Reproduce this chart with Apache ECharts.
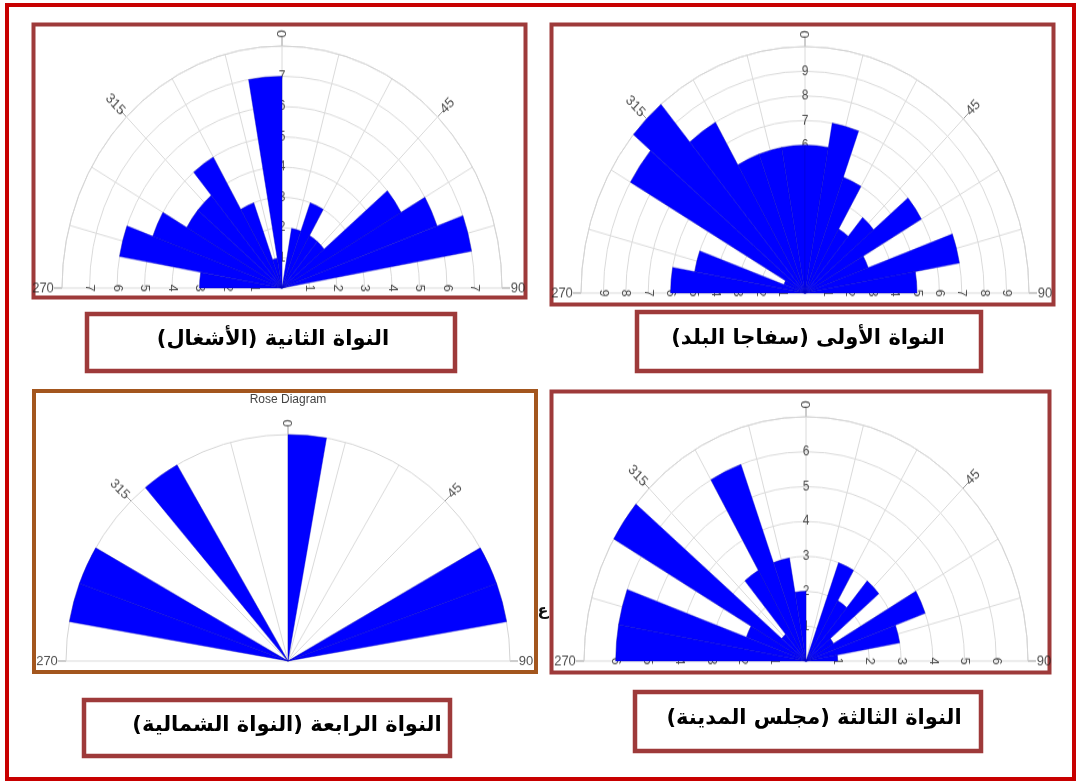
<!DOCTYPE html>
<html>
<head>
<meta charset="utf-8">
<script src="https://cdn.jsdelivr.net/npm/echarts@6/dist/echarts.min.js"></script>
<style>
  html, body { margin: 0; padding: 0; background: #fff; }
  .layer { position: absolute; left: 0; top: 0; width: 1078px; height: 783px; }
</style>
</head>
<body>
<div id="frame" class="layer"></div>
<div id="p0" class="layer"></div>
<div id="p1" class="layer"></div>
<div id="p2" class="layer"></div>
<div id="p3" class="layer"></div>
<script>
// 10-degree classes, 270 -> 0 -> 90 (clockwise over the top)
const bins = ['270', '280', '290', '300', '310', '320', '330', '340', '350',
              '0', '10', '20', '30', '40', '50', '60', '70', '80'];

// frequencies per class
const ashghal      = [3, 6, 5, 4, 4, 5, 3, 1, 7,   0, 2, 3, 2, 2, 5, 6, 7, 0];
const safagaBalad  = [6, 5, 1, 9, 10, 8, 6, 6, 6,  6, 7, 5, 3, 4, 6, 3, 7, 5];
const majlisMadina = [6, 6, 2, 7, 1, 3, 6, 3, 2,   0, 0, 3, 2, 3, 1, 4, 3, 1];
const shamalia     = [0, 1, 1, 0, 0, 1, 0, 0, 0,   1, 0, 0, 0, 0, 0, 1, 1, 0];

// tick labels
const angleTicks = [270, 315, 0, 45, 90];
const ringsAshghal = [1, 2, 3, 4, 5, 6, 7];
const ringsSafaga = [1, 2, 3, 4, 5, 6, 7, 8, 9];
const ringsMajlis = [1, 2, 3, 4, 5, 6];
const ringsShamalia = [];

const titles = [
  'النواة الثانية (الأشغال)',
  'النواة الأولى (سفاجا البلد)',
  'النواة الثالثة (مجلس المدينة)',
  'النواة الرابعة (النواة الشمالية)'
];

// layout of each panel (stretch = the source pictures are taller than wide)
const panels = [
  { data: ashghal, rings: ringsAshghal, max: 8, center: [282, 288], r: 220, stretch: 1.1 },
  { data: safagaBalad, rings: ringsSafaga, max: 10, center: [805, 293], r: 224, stretch: 1.1 },
  { data: majlisMadina, rings: ringsMajlis, max: 7, center: [806, 661], r: 222, stretch: 1.1 },
  { data: shamalia, rings: ringsShamalia, max: 1, center: [288, 661], r: 222, stretch: 1.02 }
];
// gap (px) beyond the outer ring and rotation for the compass labels
const angleGap = [19, 16, 11, 14, 16];
const angleRot = [0, -45, 90, 45, 0];

const FONT = 'Liberation Sans';
const toAxis = c => (c + 90) % 360;   // compass -> 0..180 along the half circle

function panelOption(p) {
  const polar = [0, 1, 2].map(() => ({ center: p.center, radius: p.r }));
  const angleAxis = [], radiusAxis = [];

  // grid: spokes every 15 deg, rings every unit
  angleAxis.push({
    polarIndex: 0, type: 'value', min: 0, max: 180, interval: 15,
    startAngle: 180, endAngle: 0, clockwise: true,
    axisLine: { show: true, lineStyle: { color: '#d4d4d4', width: 1 } },
    axisTick: { show: false }, axisLabel: { show: false },
    splitLine: { show: true, lineStyle: { color: '#dadada', width: 1 } }
  });
  radiusAxis.push({
    polarIndex: 0, type: 'value', min: 0, max: p.max, interval: 1,
    axisLine: { show: false }, axisTick: { show: false }, axisLabel: { show: false },
    splitLine: { show: p.rings.length > 0, lineStyle: { color: '#dadada', width: 1 } }
  });

  // short ticks at the labelled directions
  angleAxis.push({
    polarIndex: 1, type: 'value', min: 0, max: 180, interval: 45,
    startAngle: 180, endAngle: 0, clockwise: true,
    axisLine: { show: false }, axisLabel: { show: false }, splitLine: { show: false },
    axisTick: { show: true, length: 8, lineStyle: { color: '#9a9a9a' } }
  });
  radiusAxis.push({ polarIndex: 1, type: 'value', min: 0, max: p.max, show: false });

  // bars
  angleAxis.push({
    polarIndex: 2, type: 'category', data: bins,
    startAngle: 180, endAngle: 0, clockwise: true, show: false
  });
  radiusAxis.push({ polarIndex: 2, type: 'value', min: 0, max: p.max, show: false });

  const items = [];
  p.rings.forEach(k => {
    items.push({ name: String(k), value: [k, 0], label: { rotate: -90 } });
    items.push({ name: String(k), value: [k, 180], label: { rotate: -90 } });
    items.push({ name: String(k), value: [k, 90], label: { rotate: 0 } });
  });
  angleTicks.forEach((c, j) => {
    items.push({
      name: String(c),
      value: [p.max * (p.r + angleGap[j]) / p.r, toAxis(c)],
      label: { rotate: angleRot[j], fontSize: 13 }
    });
  });

  return {
    backgroundColor: 'transparent',
    animation: false,
    polar, angleAxis, radiusAxis,
    series: [
      {
        type: 'bar', coordinateSystem: 'polar', polarIndex: 2,
        data: p.data, barCategoryGap: '0%', z: 3, silent: true,
        itemStyle: { color: '#0000ff', borderColor: '#0000c0', borderWidth: 0.4 }
      },
      {
        type: 'scatter', coordinateSystem: 'polar', polarIndex: 0,
        symbolSize: 0, clip: false, silent: true, z: 2,
        label: {
          show: true, position: 'inside', formatter: '{b}',
          color: '#222', fontSize: 12, fontFamily: FONT
        },
        data: items
      }
    ]
  };
}

// frames and captions
const panelBoxes = [
  { x: 33.5, y: 24.5, w: 492, h: 273, color: '#9e3a3a' },
  { x: 551.5, y: 24.5, w: 502, h: 280, color: '#9e3a3a' },
  { x: 551.5, y: 391.5, w: 498, h: 281, color: '#9e3a3a' },
  { x: 34, y: 391, w: 502, h: 281, color: '#a3561e' }
];
const titleBoxes = [
  { x: 87, y: 314, w: 368, h: 57, tx: 273, ty: 340 },
  { x: 637, y: 312, w: 344, h: 59, tx: 808, ty: 339 },
  { x: 635, y: 692, w: 346, h: 59, tx: 814, ty: 719 },
  { x: 84, y: 700, w: 366, h: 56, tx: 287, ty: 726 }
];

const graphic = [
  { type: 'rect', z: 20, shape: { x: 7, y: 5, width: 1067, height: 774 },
    style: { fill: null, stroke: '#c80000', lineWidth: 4 } },
  { type: 'text', z: 5, style: { text: 'ع', x: 543, y: 611, align: 'center', verticalAlign: 'middle',
    font: 'bold 16px DejaVu Sans', fill: '#111' } },
  { type: 'text', z: 20, style: { text: 'Rose Diagram', x: 288, y: 400, align: 'center',
    verticalAlign: 'middle', font: '12px ' + FONT, fill: '#444' } }
];
panelBoxes.forEach(bx => graphic.push({
  type: 'rect', z: 20, shape: { x: bx.x, y: bx.y, width: bx.w, height: bx.h },
  style: { fill: null, stroke: bx.color, lineWidth: 4 }
}));
titleBoxes.forEach((bx, i) => {
  graphic.push({
    type: 'rect', z: 20, shape: { x: bx.x, y: bx.y, width: bx.w, height: bx.h },
    style: { fill: '#fff', stroke: '#9e3a3a', lineWidth: 4.5 }
  });
  graphic.push({
    type: 'text', z: 21,
    style: { text: titles[i] + '\u200F', x: bx.tx, y: bx.ty, align: 'center', verticalAlign: 'middle',
      font: 'bold 21px DejaVu Sans', fill: '#000' }
  });
});

const frame = echarts.init(document.getElementById('frame'));
frame.setOption({ backgroundColor: '#fff', animation: false, graphic });

panels.forEach((p, i) => {
  const el = document.getElementById('p' + i);
  el.style.transformOrigin = p.center[0] + 'px ' + p.center[1] + 'px';
  el.style.transform = 'scaleY(' + p.stretch + ')';
  const chart = echarts.init(el);
  chart.setOption(panelOption(p));
});
</script>
</body>
</html>
